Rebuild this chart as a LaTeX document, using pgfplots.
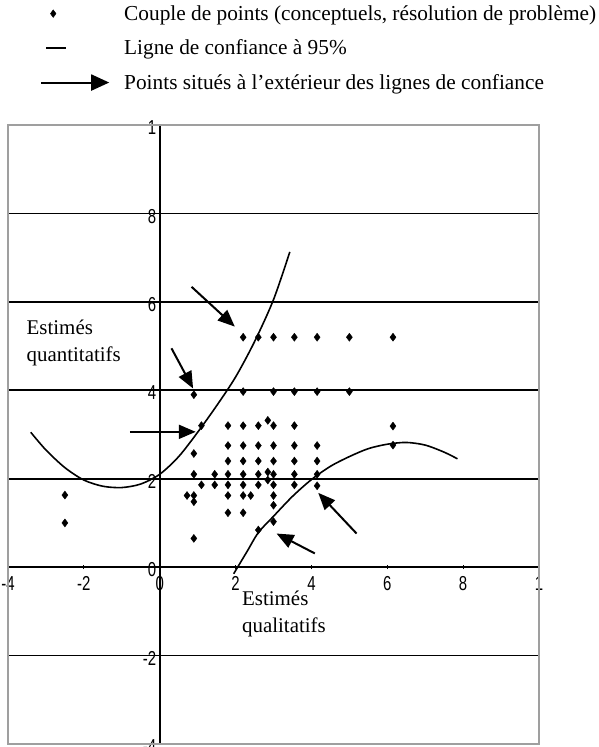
\documentclass[border=0pt]{standalone}
\usepackage{fontspec}
\setmainfont{Liberation Serif}
\newfontfamily\ticksans{Liberation Sans}
\usepackage{pgfplots}
\pgfplotsset{compat=1.18}
\usetikzlibrary{arrows.meta}

\pgfplotsset{
  legdot/.style={legend image code/.code={%
      \draw[white, line width=0.1bp] (0bp,0bp) -- (68bp,0bp);
      \fill[black] (12bp,3.8bp) -- (14.8bp,0bp) -- (12bp,-3.8bp) -- (9.2bp,0bp) -- cycle;}},
  legdash/.style={legend image code/.code={%
      \draw[white, line width=0.1bp] (0bp,0bp) -- (68bp,0bp);
      \draw[black, line width=2bp] (5bp,0bp) -- (25bp,0bp);}},
  legarrow/.style={legend image code/.code={%
      \draw[line width=2bp,-{Triangle[length=18bp,width=16bp]}] (0bp,0bp) -- (68bp,0bp);}},
}
\tikzset{outarrow/.style={line width=2bp,-{Triangle[length=17bp,width=14bp]}}}

\begin{document}
\begin{tikzpicture}[x=1bp,y=1bp]
\useasboundingbox (0,0) rectangle (599,747);
\begin{axis}[
  at={(8bp,3bp)}, anchor=south west,
  scale only axis, width=531bp, height=619bp,
  xmin=-4, xmax=10, ymin=-4, ymax=10,
  axis lines=middle,
  axis line style={-, line width=1.8bp, black},
  xtick={-4,-2,...,10}, ytick={-4,-2,...,10},
  xticklabels={-4,-2,0,2,4,6,8,1},
  yticklabels={-4,-2,0,2,4,6,8,1},
  hide obscured x ticks=false, hide obscured y ticks=false,
  ymajorgrids, grid style={black, line width=1.8bp},
  major tick length=4bp, tick style={black, line width=1bp},
  xticklabel style={font=\ticksans\fontsize{15}{15}\selectfont, yscale=1.35, yshift=-2bp},
  yticklabel style={font=\ticksans\fontsize{15}{15}\selectfont, yscale=1.35, yshift=-2bp, xshift=2bp},
  clip=false,
  legend style={at={(0.0603,1.1934)}, anchor=north west, draw=none, fill=none,
    font=\fontsize{21.4}{24}\selectfont, inner sep=0pt, row sep=18bp, column sep=14bp,
    nodes={inner sep=0pt}},
  legend cell align=left,
]
\addplot[only marks, mark=diamond*, mark size=4bp, black, legdot] coordinates {
  (2.2,5.2) (2.6,5.2) (3.0,5.2) (3.55,5.2) (4.15,5.2) (5.0,5.2) (6.15,5.2)
  (2.2,3.97) (3.0,3.97) (3.55,3.97) (4.15,3.97) (5.0,3.97)
  (0.9,3.9) (2.85,3.32)
  (1.1,3.2) (1.8,3.2) (2.2,3.2) (2.6,3.2) (3.0,3.2) (3.55,3.2) (6.15,3.19)
  (1.8,2.75) (2.2,2.75) (2.6,2.75) (3.0,2.75) (3.55,2.75) (4.15,2.75) (6.15,2.76)
  (0.9,2.57)
  (1.8,2.4) (2.2,2.4) (2.6,2.4) (3.0,2.4) (3.55,2.4) (4.15,2.4)
  (0.9,2.1) (1.45,2.1) (1.8,2.1) (2.2,2.1) (2.6,2.1) (2.85,2.15) (3.0,2.1) (3.55,2.1) (4.15,2.1)
  (2.85,1.97)
  (1.1,1.86) (1.45,1.86) (1.8,1.86) (2.2,1.86) (2.6,1.86) (3.0,1.86) (3.55,1.86) (4.15,1.84)
  (0.72,1.62) (0.9,1.62) (1.8,1.62) (2.2,1.62) (2.4,1.62) (3.0,1.62)
  (0.9,1.48) (3.0,1.4)
  (1.8,1.23) (2.2,1.23)
  (3.0,1.03) (2.6,0.84) (0.9,0.65)
  (-2.5,1.63) (-2.5,1.0)
};
\addlegendentry{Couple de points (conceptuels, résolution de problème)}
\addplot[black, line width=1.6bp, smooth, legdash] coordinates {
  (-3.4,3.05) (-3.0,2.65) (-2.5,2.25) (-2.0,1.97) (-1.5,1.83) (-1.0,1.8)
  (-0.5,1.88) (0,2.1) (0.5,2.5) (1.0,3.05) (1.5,3.65) (2.0,4.3) (2.5,5.1)
  (3.0,6.05) (3.43,7.13)
};
\addlegendentry{Ligne de confiance à 95\%}
\addplot[black, line width=1.6bp, smooth, forget plot] coordinates {
  (1.95,-0.15) (2.3,0.35) (2.6,0.78) (3.0,1.15) (3.5,1.6) (4.0,1.98) (4.5,2.28)
  (5.0,2.5) (5.5,2.68) (6.0,2.78) (6.5,2.82) (7.0,2.76) (7.5,2.6) (7.85,2.45)
};
\addlegendimage{legarrow}
\addlegendentry{Points situés à l’extérieur des lignes de confiance}

\draw[outarrow] (axis cs:0.84,6.34) -- (axis cs:1.98,5.44);
\draw[outarrow] (axis cs:0.31,4.95) -- (axis cs:0.88,4.04);
\draw[outarrow] (axis cs:-0.79,3.06) -- (axis cs:0.95,3.06);
\draw[outarrow] (axis cs:5.19,0.76) -- (axis cs:4.18,1.68);
\draw[outarrow] (axis cs:4.09,0.31) -- (axis cs:3.08,0.76);

\node[anchor=west, align=left, font=\fontsize{21}{27}\selectfont] at (axis cs:-3.6,5.08) {Estimés\\quantitatifs};
\node[anchor=west, align=left, font=\fontsize{21}{27}\selectfont] at (axis cs:2.08,-1.06) {Estimés\\qualitatifs};

\draw[gray!75, line width=2bp] (rel axis cs:0,0) rectangle (rel axis cs:1,1);
\end{axis}
\end{tikzpicture}
\end{document}
